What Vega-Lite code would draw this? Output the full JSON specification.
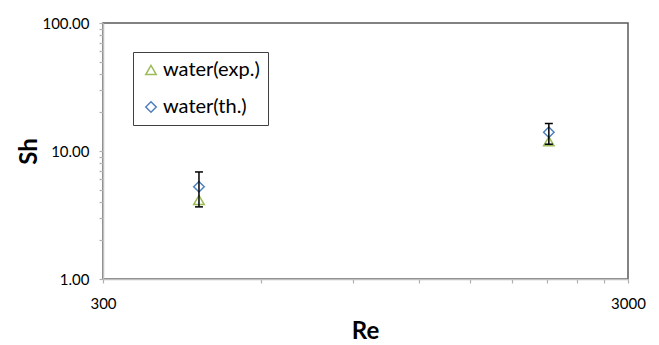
{
  "$schema": "https://vega.github.io/schema/vega-lite/v6.json",
  "autosize": "none",
  "width": 525,
  "height": 256,
  "padding": {"left": 103, "top": 23, "right": 31, "bottom": 66},
  "background": "white",
  "config": {
    "font": "Lato",
    "view": {"stroke": "#595959", "strokeWidth": 1.5},
    "axis": {"grid": false}
  },
  "data": {
    "values": [
      {"series": "water(exp.)", "Re": 457, "Sh": 4.14},
      {"series": "water(th.)", "Re": 457, "Sh": 5.26, "lo": 3.66, "hi": 6.86},
      {"series": "water(exp.)", "Re": 2120, "Sh": 11.9},
      {"series": "water(th.)", "Re": 2120, "Sh": 14.0, "lo": 11.3, "hi": 16.4}
    ]
  },
  "layer": [
    {
      "mark": {"type": "point", "filled": false, "strokeWidth": 1.5, "size": 110, "opacity": 1},
      "encoding": {
        "x": {
          "field": "Re", "type": "quantitative",
          "scale": {"type": "log", "domain": [300, 3000], "nice": false},
          "axis": {
            "title": "Re", "titleFontSize": 24, "titleFontWeight": "bold", "titleColor": "black",
            "titleX": 262, "titleY": 52, "titleBaseline": "middle",
            "values": [300, 600, 900, 1200, 1500, 1800, 2100, 2400, 2700, 3000],
            "labelExpr": "datum.value == 300 || datum.value == 3000 ? datum.value : ''",
            "labelFontSize": 15, "labelColor": "black", "labelPadding": 13, "labelBaseline": "top",
            "tickSize": 4, "tickColor": "#b0b0b0", "tickWidth": 1.2, "domainColor": "#bfbfbf", "domainWidth": 1.5,
            "labelFlush": false, "labelOverlap": false
          }
        },
        "y": {
          "field": "Sh", "type": "quantitative",
          "scale": {"type": "log", "domain": [1, 100], "nice": false},
          "axis": {
            "title": "Sh", "titleFontSize": 24, "titleFontWeight": "bold", "titleColor": "black",
            "titleX": -74, "titleY": 128, "titleBaseline": "middle", "titleAngle": -90, "titleAlign": "center",
            "values": [1, 2, 3, 4, 5, 6, 7, 8, 9, 10, 20, 30, 40, 50, 60, 70, 80, 90, 100],
            "labelExpr": "datum.value == 1 || datum.value == 10 || datum.value == 100 ? format(datum.value, '.2f') : ''",
            "labelFontSize": 15, "labelColor": "black", "labelPadding": 10,
            "tickSize": 4, "tickColor": "#b0b0b0", "tickWidth": 1.2, "domainColor": "#bfbfbf", "domainWidth": 1.5,
            "labelOverlap": false
          }
        },
        "shape": {
          "field": "series", "type": "nominal",
          "scale": {"domain": ["water(exp.)", "water(th.)"], "range": ["triangle-up", "diamond"]},
          "legend": {
            "title": null, "orient": "none", "legendX": 30, "legendY": 29,
            "strokeColor": "#404040", "padding": 8,
            "labelFontSize": 20, "labelColor": "black", "labelOffset": 2,
            "symbolSize": 110, "symbolStrokeWidth": 1.5, "rowPadding": 17, "symbolOffset": 0,
            "encode": {"legend": {"update": {"strokeWidth": {"value": 1.5}}}}
          }
        },
        "color": {
          "field": "series", "type": "nominal",
          "scale": {"domain": ["water(exp.)", "water(th.)"], "range": ["#9bbb59", "#4f81bd"]},
          "legend": {
            "title": null, "orient": "none", "legendX": 30, "legendY": 29,
            "strokeColor": "#404040", "padding": 8,
            "labelFontSize": 20, "labelColor": "black", "labelOffset": 2,
            "symbolSize": 110, "symbolStrokeWidth": 1.5, "rowPadding": 17, "symbolOffset": 0,
            "encode": {"legend": {"update": {"strokeWidth": {"value": 1.5}}}}
          }
        }
      }
    },
    {
      "transform": [{"filter": "isValid(datum.lo)"}],
      "mark": {"type": "rule", "color": "black", "strokeWidth": 1.5},
      "encoding": {
        "x": {"field": "Re", "type": "quantitative"},
        "y": {"field": "lo", "type": "quantitative"},
        "y2": {"field": "hi"}
      }
    },
    {
      "transform": [{"filter": "isValid(datum.lo)"}, {"fold": ["lo", "hi"], "as": ["end", "val"]}],
      "mark": {"type": "tick", "color": "black", "orient": "horizontal", "size": 8, "thickness": 1.5, "opacity": 1},
      "encoding": {
        "x": {"field": "Re", "type": "quantitative"},
        "y": {"field": "val", "type": "quantitative"}
      }
    }
  ]
}
